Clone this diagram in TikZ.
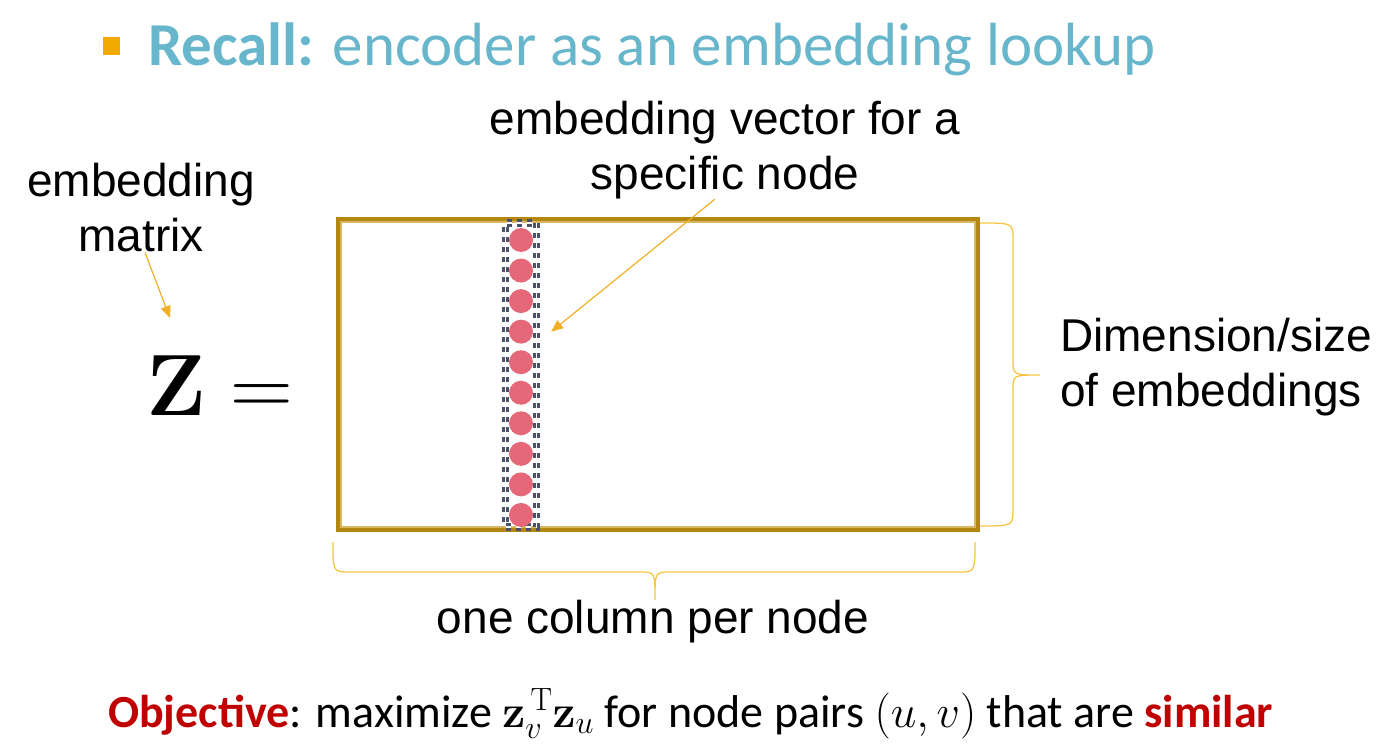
\RequirePackage{fix-cm}
\documentclass[tikz,border=0pt]{standalone}
\usepackage[no-math]{fontspec}
\setmainfont{Liberation Sans}
\newfontfamily\calibri{Carlito}
\usepackage{amsmath}
\usetikzlibrary{positioning,arrows.meta}

\definecolor{titleblue}{RGB}{104,182,204}
\definecolor{bulletorange}{RGB}{240,170,0}
\definecolor{framegold}{RGB}{180,136,16}
\definecolor{framelight}{RGB}{214,184,100}
\definecolor{bracegold}{RGB}{246,198,70}
\definecolor{arrowgold}{RGB}{240,176,40}
\definecolor{dotpink}{RGB}{228,104,120}
\definecolor{dashgray}{RGB}{76,82,104}
\definecolor{objred}{RGB}{192,0,0}

\tikzset{
  labeltext/.style={font=\fontsize{46}{55}\selectfont, align=center, inner sep=0pt},
  pointer/.style={draw=arrowgold, line width=1.2pt, -{Triangle[length=12pt,width=10pt]}},
  braceline/.style={draw=bracegold, line width=1.3pt},
  embdot/.style={circle, fill=dotpink, minimum size=24pt, inner sep=0pt},
}

\begin{document}
\begin{tikzpicture}[x=1pt,y=-1pt]
\useasboundingbox (0,0) rectangle (1400,749);
% title line
\fill[bulletorange] (103,37) rectangle (120,55);
\node [anchor=base west, inner sep=0pt, text=titleblue, font=\calibri\fontsize{61}{70}\selectfont] (title) at (148,66) {\textbf{Recall:} encoder as an embedding lookup};
% the matrix Z
\node [anchor=base west, inner sep=0pt, font=\fontsize{87}{90}\selectfont] (zeq) at (146,415) {$\mathbf{Z} =$};
\node [draw=framegold, line width=4.5pt, minimum width=640pt, minimum height=311pt, inner sep=0pt] (mat) at (658,374.5) {};
\draw [framelight, line width=1.8pt] ([shift={(5.5pt,-5.5pt)}]mat.north west) rectangle ([shift={(-5.5pt,5.5pt)}]mat.south east);
% one column
\node [draw=dashgray, dash pattern=on 5pt off 5pt, double, double distance=1.5pt, line width=3pt, minimum width=31pt, minimum height=304pt, inner sep=0pt] (col) at (521,375) {};
\foreach \i in {1,...,10}
  \node [embdot] (e\i) at (521,{240+(\i-1)*30.55}) {};
% labels
\node [labeltext] (matlbl) at (141,208) {embedding\\matrix};
\node [labeltext] (veclbl) at (725,150) {embedding vector for a\\specific node};
\node [labeltext, align=left, anchor=west] (dimlbl) at (1060,367) {Dimension/size\\of embeddings};
\node [labeltext] (collbl) at (653,622) {one column per node};
% pointers
\coordinate (ztip) at (170,318);
\draw [pointer] ([xshift=4pt]matlbl.south) -- (ztip);
\draw [pointer] ([xshift=-10pt]veclbl.south) -- ([xshift=18pt]e4.east);
% braces
\draw [braceline] (980,223) .. controls (1013,223) .. (1013,240) -- (1013,360) .. controls (1013,375) .. (1040,375)
  .. controls (1013,375) .. (1013,390) -- (1013,509) .. controls (1013,526) .. (980,526);
\draw [braceline] (333,542) .. controls (333,572) .. (350,572) -- (640,572) .. controls (655,572) .. (655,600)
  .. controls (655,572) .. (670,572) -- (958,572) .. controls (975,572) .. (975,542);
% objective
\node [anchor=base west, inner sep=0pt, font=\calibri\fontsize{46}{50}\selectfont] (obj) at (108,727) {\textcolor{objred}{\textbf{Objective}}: maximize $\mathbf{z}_v^{\,\mathrm{T}}\mathbf{z}_u$ for node pairs $(u,v)$ that are \textcolor{objred}{\textbf{similar}}};
\end{tikzpicture}
\end{document}
